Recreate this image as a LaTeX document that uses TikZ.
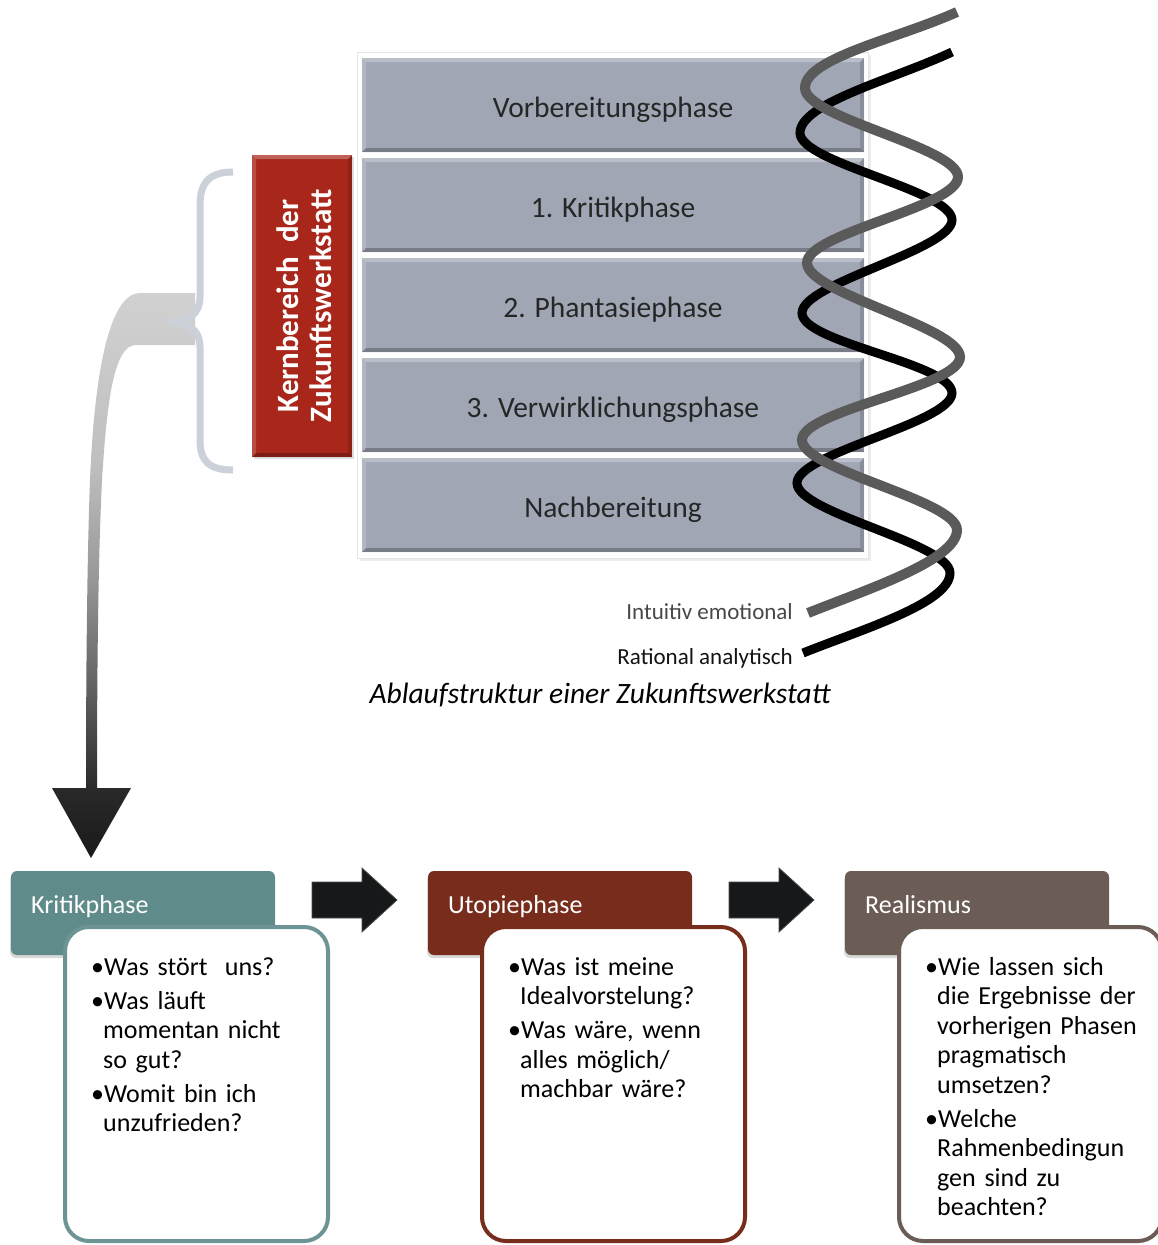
\documentclass[tikz,border=0pt]{standalone}
\usepackage{fontspec}
\setmainfont{Carlito}
\usetikzlibrary{shadows}

\definecolor{phasefill}{RGB}{160,166,180}
\definecolor{redbox}{RGB}{168,38,26}
\definecolor{bracecol}{RGB}{203,208,217}
\definecolor{tealc}{RGB}{96,139,139}
\definecolor{rustc}{RGB}{120,45,28}
\definecolor{brownc}{RGB}{107,93,85}
\definecolor{helixgray}{RGB}{90,90,90}
\definecolor{arrowdark}{RGB}{22,24,25}

\pgfdeclareverticalshading{bigarrowshade}{100bp}{color(0bp)=(black!90); color(25bp)=(black!90); color(31bp)=(black!84); color(40bp)=(black!62); color(50bp)=(black!40); color(60bp)=(black!25); color(75bp)=(black!18); color(100bp)=(black!18)}

\newcommand{\bitem}[1]{\par\hangindent=12pt\hangafter=1\noindent\makebox[13pt][l]{•}#1\par}

\tikzset{
  bevel/.style={path picture={
      \path (path picture bounding box.north west) coordinate (bnw)
            (path picture bounding box.north east) coordinate (bne)
            (path picture bounding box.south west) coordinate (bsw)
            (path picture bounding box.south east) coordinate (bse);
      \fill[white,opacity=0.28] (bnw) -- (bne) -- ([shift={(-4,4)}]bne) -- ([shift={(4,4)}]bnw) -- cycle;
      \fill[white,opacity=0.18] (bnw) -- ([shift={(4,4)}]bnw) -- ([shift={(4,-4)}]bsw) -- (bsw) -- cycle;
      \fill[black,opacity=0.25] (bsw) -- (bse) -- ([shift={(-4,-4)}]bse) -- ([shift={(4,-4)}]bsw) -- cycle;
      \fill[black,opacity=0.15] (bse) -- (bne) -- ([shift={(-4,4)}]bne) -- ([shift={(-4,-4)}]bse) -- cycle;
  }},
  phasebox/.style={minimum width=502pt, minimum height=94pt, fill=phasefill, inner sep=0pt, bevel},
  phaselabel/.style={font=\fontsize{29.5}{34}\selectfont, text=black!85, text height=32pt, text depth=8pt, inner sep=0pt},
  titlebox/.style={minimum width=264pt, minimum height=84pt, rounded corners=6pt, fill=#1, inner sep=0pt,
      drop shadow={opacity=0.3, shadow xshift=-1pt, shadow yshift=-3pt}},
  titletext/.style={anchor=base west, text=white, font=\fontsize{26}{30}\selectfont, inner sep=0pt},
  contentbox/.style={draw=#1, line width=4pt, fill=white, rounded corners=24pt, minimum width=263pt, minimum height=314pt, inner sep=0pt},
  bodytext/.style={anchor=base west, text width=245pt, align=left, inner sep=0pt, font=\fontsize{26}{29.5}\selectfont},
  helixlabel/.style={anchor=base east, font=\fontsize{23}{26}\selectfont, inner sep=0pt},
  blockarrow/.style={fill=arrowdark, draw=black!70, line width=0.8pt, line join=miter},
}

\begin{document}
\begin{tikzpicture}[x=1pt,y=-1pt]
\useasboundingbox (0,0) rectangle (1157,1245);
\fill[white] (0,0) rectangle (1157,1245);

% frame with phases
\node[fill=white, draw=black!10, line width=1pt, minimum width=511pt, minimum height=506pt, inner sep=0pt,
      drop shadow={opacity=0.15, shadow xshift=3pt, shadow yshift=-3pt}] (frame) at (612.5,305) {};
\node[phasebox] (p1) at (613,105) {};
\node[phasebox] (p2) at (613,205) {};
\node[phasebox] (p3) at (613,305) {};
\node[phasebox] (p4) at (613,405) {};
\node[phasebox] (p5) at (613,505) {};
\node[phaselabel] (l1) at (p1.center) {Vorbereitungsphase};
\node[phaselabel] (l2) at (p2.center) {1. Kritikphase};
\node[phaselabel] (l3) at (p3.center) {2. Phantasiephase};
\node[phaselabel] (l4) at (p4.center) {3. Verwirklichungsphase};
\node[phaselabel] (l5) at (p5.center) {Nachbereitung};

% red core box
\node[fill=redbox, minimum width=100pt, minimum height=302pt, inner sep=0pt, bevel,
      drop shadow={opacity=0.25, shadow xshift=2pt, shadow yshift=-2pt}] (core) at (302,306) {};
\node[rotate=90, text=white, align=center, inner sep=0pt,
      font=\bfseries\fontsize{31}{33}\selectfont] (coretext) at (304,306) {Kernbereich\ \ der\\Zukunftswerkstatt};

% big gradient arrow
\path[shading=bigarrowshade]
  (195,293) -- (140,293) .. controls (112,293) and (95,360) .. (90,480)
  .. controls (87,560) and (86,680) .. (86,788)
  -- (52,788) -- (91,858) -- (131,788) -- (97,788)
  .. controls (97,680) and (98,560) .. (102,480)
  .. controls (107,400) and (114,345) .. (136,345) -- (195,345) -- cycle;

% brace
\draw[bracecol, line width=7pt]
  (233,172) .. controls (210,172) and (200,182) .. (200,205) -- (200,297)
  .. controls (200,313) and (190,322) .. (168,322)
  .. controls (190,322) and (200,331) .. (200,347) -- (200,440)
  .. controls (200,462) and (210,470) .. (233,470);

% helix
\draw[black, line width=9pt]
  (952,52) .. controls (892,80) and (800,103) .. (800,133)
  .. controls (800,163) and (952,190) .. (952,220)
  .. controls (952,250) and (802,283) .. (802,313)
  .. controls (802,343) and (952,363) .. (952,393)
  .. controls (952,423) and (797,453) .. (797,483)
  .. controls (797,513) and (950,543) .. (950,573)
  .. controls (950,603) and (863,629) .. (803,653);
\draw[helixgray, line width=10pt]
  (957,12) .. controls (897,39) and (805,58) .. (805,88)
  .. controls (805,118) and (958,147) .. (958,177)
  .. controls (958,207) and (807,233) .. (807,263)
  .. controls (807,293) and (960,327) .. (960,357)
  .. controls (960,387) and (802,410) .. (802,440)
  .. controls (802,470) and (957,500) .. (957,530)
  .. controls (957,560) and (868,589) .. (808,613);

\node[helixlabel, text=black!72] (lint) at (793,619) {Intuitiv emotional};
\node[helixlabel, text=black!92] (lrat) at (793,664) {Rational analytisch};
\node[font=\itshape\fontsize{29.5}{33}\selectfont, inner sep=0pt] (caption) at (600,695) {Ablaufstruktur einer Zukunftswerkstatt};

% bottom row
\node[titlebox=tealc] (t1) at (143,913) {};
\node[titlebox=rustc] (t2) at (560,913) {};
\node[titlebox=brownc] (t3) at (977,913) {};
\node[titletext] (tt1) at (31,913) {Kritikphase};
\node[titletext] (tt2) at (448,913) {Utopiephase};
\node[titletext] (tt3) at (865,913) {Realismus};

\node[contentbox=tealc!92!white] (c1) at (196.5,1084) {};
\node[contentbox=rustc] (c2) at (613.5,1084) {};
\node[contentbox=brownc] (c3) at (1030.5,1084) {};

\node[bodytext] (b1) at (91,945.5) {%
  \bitem{Was stört~ uns?}\vspace{4.5pt}%
  \bitem{Was läuft\newline momentan nicht\newline so gut?}\vspace{4.5pt}%
  \bitem{Womit bin ich\newline unzufrieden?}};
\node[bodytext] (b2) at (508,945.5) {%
  \bitem{Was ist meine\newline Idealvorstelung?}\vspace{4.5pt}%
  \bitem{Was wäre, wenn\newline alles möglich/\newline machbar wäre?}};
\node[bodytext] (b3) at (925,945.5) {%
  \bitem{Wie lassen sich\newline die Ergebnisse der\newline vorherigen Phasen\newline pragmatisch\newline umsetzen?}\vspace{4.5pt}%
  \bitem{Welche\newline Rahmenbedingun\newline gen sind zu\newline beachten?}};

% block arrows between phases
\filldraw[blockarrow] (312,882) -- (362,882) -- (362,868) -- (397,900) -- (362,932) -- (362,918) -- (312,918) -- cycle;
\filldraw[blockarrow] (729,882) -- (779,882) -- (779,868) -- (814,900) -- (779,932) -- (779,918) -- (729,918) -- cycle;
\end{tikzpicture}
\end{document}
